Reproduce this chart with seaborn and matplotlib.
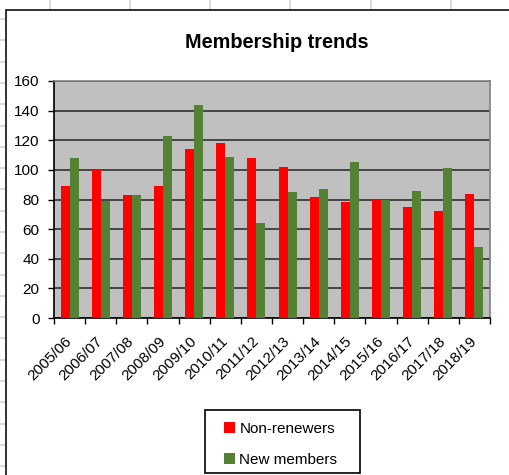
"""
Membership trends - clustered bar chart (Excel style)
"""
import numpy as np
import pandas as pd
import matplotlib
matplotlib.use('Agg')
import matplotlib.pyplot as plt
import seaborn as sns
from matplotlib.patches import Rectangle
from matplotlib.lines import Line2D

# ============================================================================
# DATA
# ============================================================================
seasons = ['2005/06', '2006/07', '2007/08', '2008/09', '2009/10', '2010/11', '2011/12',
           '2012/13', '2013/14', '2014/15', '2015/16', '2016/17', '2017/18', '2018/19']
non_renewers = [89, 100, 83, 89, 114, 118, 108, 102, 82, 78, 80, 75, 72, 84]
new_members = [108, 79, 83, 123, 144, 109, 64, 85, 87, 105, 80, 86, 101, 48]
series_names = ['Non-renewers', 'New members']
y_ticks = [0, 20, 40, 60, 80, 100, 120, 140, 160]

df = pd.DataFrame({
    'Season': seasons * 2,
    'Count': non_renewers + new_members,
    'Series': [series_names[0]] * len(seasons) + [series_names[1]] * len(seasons),
})

# ============================================================================
# STYLE
# ============================================================================
sns.set_style('white')
plt.rcParams['font.family'] = ['Liberation Sans', 'DejaVu Sans']
plt.rcParams['text.color'] = 'black'
plt.rcParams['xtick.color'] = 'black'
plt.rcParams['ytick.color'] = 'black'

W, H = 510, 475
fig = plt.figure(figsize=(W / 100, H / 100), dpi=100)
fig.patch.set_facecolor('white')

# spreadsheet cell lines behind the chart object
for xpx in [50, 130, 210, 290, 371, 451]:
    fig.add_artist(Line2D([xpx / W, xpx / W], [1, 1 - 10 / H], color='#d4d4d4', lw=1.2, zorder=-2))
for ypx in np.arange(19, H, 21.3):
    fig.add_artist(Line2D([0, 6 / W], [1 - ypx / H, 1 - ypx / H], color='#d4d4d4', lw=1.2, zorder=-2))

# chart frame
fig.add_artist(Rectangle((6 / W, -0.05), 1.2, 1 - 10 / H + 0.05, transform=fig.transFigure,
                         facecolor='white', edgecolor='#222222', lw=1.3, zorder=-1))

ax = fig.add_axes([54 / W, 1 - 318 / H, 436 / W, 237 / H])
ax.set_zorder(1)
ax.set_facecolor('#c0c0c0')

# ============================================================================
# PLOT
# ============================================================================
sns.barplot(data=df, x='Season', y='Count', hue='Series', order=seasons,
            hue_order=series_names, palette=['#ff0000', '#548235'], saturation=1,
            width=0.58, ax=ax, legend=True, zorder=3, edgecolor='none')

ax.set_ylim(0, 160)
ax.set_xlim(-0.5, len(seasons) - 0.5)
ax.set_yticks(y_ticks)
ax.yaxis.grid(True, color='#303030', lw=1.2, zorder=1)
ax.set_axisbelow(True)
ax.set_xlabel('')
ax.set_ylabel('')

ax.tick_params(axis='y', labelsize=11, length=4, width=1, direction='out', pad=6.5, left=True)
ax.tick_params(axis='x', which='major', length=0, labelsize=11, pad=15)
ax.set_xticks(np.arange(-0.5, len(seasons)), minor=True)
ax.tick_params(axis='x', which='minor', length=4, width=1, direction='out', bottom=True)
plt.setp(ax.get_xticklabels(), rotation=45, ha='right', va='center', rotation_mode='anchor')

for side in ['left', 'bottom']:
    ax.spines[side].set_color('black')
    ax.spines[side].set_linewidth(1.2)
for side in ['top', 'right']:
    ax.spines[side].set_visible(True)
    ax.spines[side].set_color('#808080')
    ax.spines[side].set_linewidth(1.2)

fig.text(277 / W, 1 - 42 / H, 'Membership trends', ha='center', va='center',
         fontsize=14.3, fontweight='bold')

# legend box drawn separately so its size matches the original
ax.legend_.remove()
fig.add_artist(Rectangle((205 / W, 1 - 473 / H), 155 / W, 63 / H, transform=fig.transFigure,
                         facecolor='white', edgecolor='black', lw=1.2, zorder=2))
handles, labels = ax.get_legend_handles_labels()
leg = fig.legend(handles, labels, loc='upper left', bbox_to_anchor=(224 / W, 1 - 422 / H),
                 frameon=False, fontsize=11,
                 handlelength=0.7, handleheight=0.7, handletextpad=0.3,
                 labelspacing=1.1, borderpad=0, borderaxespad=0)
leg.set_zorder(3)

fig.savefig('out.png', dpi=100, facecolor='white')
print('Saved out.png')
